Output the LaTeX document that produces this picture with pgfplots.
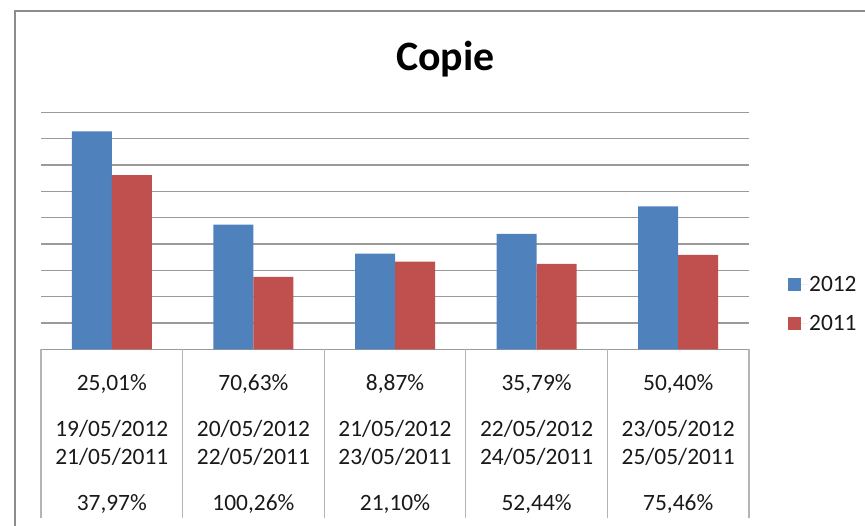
\documentclass[border=0pt]{standalone}
\usepackage{pgfplots}
\pgfplotsset{compat=1.18}
\usepackage{fontspec}
\setmainfont{Carlito}

\definecolor{blueb}{HTML}{4F81BD}
\definecolor{redb}{HTML}{C0504D}
\definecolor{gridc}{HTML}{9A9A9A}
\definecolor{framec}{HTML}{8C8C8C}
\definecolor{cellc}{HTML}{B4B4B4}

\begin{document}
\begin{tikzpicture}[x=1bp,y=1bp]
\useasboundingbox (0,0) rectangle (865,526);
% outer chart frame (only left and top edges are visible)
\draw[framec, line width=2.2bp] (15,0) -- (15,515) -- (865,515);
\begin{axis}[
  at={(41bp,176.7bp)}, anchor=south west,
  scale only axis, width=708bp, height=237bp,
  ybar=0pt, bar width=40bp,
  xmin=-0.5, xmax=4.5, ymin=0, ymax=9,
  ytick={0,...,9}, yticklabels={},
  ymajorgrids, major grid style={gridc, line width=1.3bp},
  axis line style={draw=none},
  major tick length=0pt, ytick style={draw=none},
  xtick pos=bottom,
  xtick={0,...,4},
  xticklabels={
    {25,01\%\\[18bp]19/05/2012\\21/05/2011\\[17.5bp]37,97\%},
    {70,63\%\\[18bp]20/05/2012\\22/05/2011\\[17.5bp]100,26\%},
    {8,87\%\\[18bp]21/05/2012\\23/05/2011\\[17.5bp]21,10\%},
    {35,79\%\\[18bp]22/05/2012\\24/05/2011\\[17.5bp]52,44\%},
    {50,40\%\\[18bp]23/05/2012\\25/05/2011\\[17.5bp]75,46\%}},
  x tick label style={font=\fontsize{23.5}{28.3}\selectfont, align=center,
    anchor=north, yshift=-21.5bp, text=black!90},
  extra x ticks={-0.5,0.5,1.5,2.5,3.5,4.5}, extra x tick labels={},
  extra x tick style={major tick length=169bp, tick align=outside,
    tick style={cellc, line width=1.3bp}},
  title={Copie},
  title style={font=\fontsize{42}{48}\selectfont\bfseries,
    at={(0.571,1.151)}, anchor=base, yshift=0pt},
  legend style={at={(1.055,0.318)}, anchor=north west, draw=none, fill=none,
    font=\fontsize{23.5}{28}\selectfont, row sep=18.5bp, inner sep=0pt,
    text=black!90},
  legend cell align=left,
  legend image code/.code={
    \fill[#1] (0bp,-6.5bp) rectangle (13bp,6.5bp);
    \path (0bp,0bp) -- (19bp,0bp);},
]
\addplot[fill=blueb, draw=none] coordinates {
  (0,8.28) (1,4.73) (2,3.63) (3,4.38) (4,5.43)};
\addlegendentry{2012}
\addplot[fill=redb, draw=none] coordinates {
  (0,6.61) (1,2.75) (2,3.33) (3,3.24) (4,3.59)};
\addlegendentry{2011}
\end{axis}
\end{tikzpicture}
\end{document}
